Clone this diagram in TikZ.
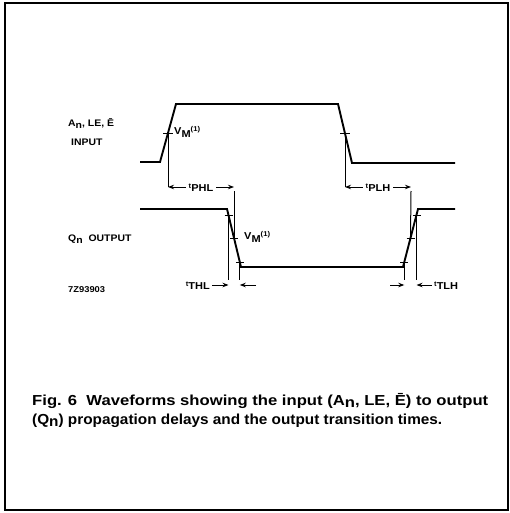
\documentclass[tikz,border=0pt]{standalone}
\usepackage{fontspec}
\setmainfont{Liberation Sans}
\newfontfamily\widefont[FakeStretch=1.1]{Liberation Sans}
\usetikzlibrary{arrows.meta}
\begin{document}
\begin{tikzpicture}[x=1pt,y=-1pt,
  wave/.style={line width=1.9pt, line join=miter},
  dimline/.style={line width=1pt},
  tickmark/.style={line width=1pt},
  arr/.style={line width=1pt,-{Stealth[length=6pt,width=4.5pt]}},
  lbl/.style={font=\widefont\bfseries\fontsize{9.5}{11}\selectfont, inner sep=0pt},
  tlbl/.style={font=\widefont\bfseries\fontsize{10}{11}\selectfont, inner sep=0pt},
  captext/.style={font=\bfseries\fontsize{14.5}{18}\selectfont, inner sep=0pt}]
\useasboundingbox (0,0) rectangle (510,513);
\draw[line width=1.3pt] (5,3) rectangle (508,510);

% input waveform
\coordinate (i0) at (140,162); \coordinate (i1) at (160,162);
\coordinate (i2) at (176,104); \coordinate (i3) at (338,104);
\coordinate (i4) at (352,163); \coordinate (i5) at (455,163);
\draw[wave] (i0) -- (i1) -- (i2) -- (i3) -- (i4) -- (i5);
\coordinate (ivr) at (168,134); \coordinate (ivf) at (345,134);
\draw[tickmark] ([xshift=-5pt]ivr) -- ([xshift=5pt]ivr);
\draw[tickmark] ([xshift=-5pt]ivf) -- ([xshift=5pt]ivf);

% output waveform
\coordinate (o0) at (140,209); \coordinate (o1) at (227,209);
\coordinate (o2) at (241,267); \coordinate (o3) at (403,267);
\coordinate (o4) at (418,209); \coordinate (o5) at (455,209);
\draw[wave] (o0) -- (o1) -- (o2) -- (o3) -- (o4) -- (o5);
\coordinate (of1) at (228.5,215); \coordinate (of5) at (234,238); \coordinate (of9) at (239.8,262);
\coordinate (or1) at (404.3,262); \coordinate (or5) at (410.5,238); \coordinate (or9) at (416.5,215);
\foreach \p in {of1,of5,of9,or1,or5,or9}
  \draw[tickmark] ([xshift=-4pt]\p) -- ([xshift=4pt]\p);

% reference lines
\coordinate (phlA) at (168,187); \coordinate (phlB) at (234,187);
\coordinate (plhA) at (345,187); \coordinate (plhB) at (411,187);
\draw[dimline] (ivr) -- (phlA);
\draw[dimline] ([yshift=-4pt]phlB) -- (of5);
\draw[dimline] (ivf) -- (plhA);
\draw[dimline] ([yshift=-4pt]plhB) -- (or5);
\coordinate (thlA) at (228.5,285); \coordinate (thlB) at (239.8,285);
\coordinate (tlhA) at (404.3,285); \coordinate (tlhB) at (416.5,285);
\draw[dimline] (of1) -- ([yshift=5pt]thlA);
\draw[dimline] (of9) -- ([yshift=5pt]thlB);
\draw[dimline] (or1) -- ([yshift=5pt]tlhA);
\draw[dimline] (or9) -- ([yshift=5pt]tlhB);

% dimension labels and arrows
\node[tlbl] (tphl) at (201,188) {\raisebox{3pt}{\fontsize{7}{7}\selectfont t}PHL};
\draw[arr] (tphl.west |- phlA) ++(-3pt,0) -- (phlA);
\draw[arr] (tphl.east |- phlB) ++(3pt,0) -- (phlB);
\node[tlbl] (tplh) at (378,188) {\raisebox{3pt}{\fontsize{7}{7}\selectfont t}PLH};
\draw[arr] (tplh.west |- plhA) ++(-3pt,0) -- (plhA);
\draw[arr] (tplh.east |- plhB) ++(3pt,0) -- (plhB);
\node[tlbl, anchor=east] (tthl) at (210,286) {\raisebox{3pt}{\fontsize{7}{7}\selectfont t}THL};
\draw[arr] (tthl.east |- thlA) ++(2pt,0) -- (thlA);
\coordinate (thlR) at (256,285);
\draw[arr] (thlR) -- (thlB);
\coordinate (tlhL) at (390,285);
\draw[arr] (tlhL) -- (tlhA);
\node[tlbl, anchor=west] (ttlh) at (434,286) {\raisebox{3pt}{\fontsize{7}{7}\selectfont t}TLH};
\draw[arr] (ttlh.west |- tlhB) ++(-2pt,0) -- (tlhB);

% VM labels
\node[tlbl, anchor=west] (vmi) at (174,132) {V\raisebox{-2.5pt}{M}\raisebox{3pt}{\fontsize{7}{7}\selectfont (1)}};
\node[tlbl, anchor=west] (vmo) at (244,237) {V\raisebox{-2.5pt}{M}\raisebox{3pt}{\fontsize{7}{7}\selectfont (1)}};

% signal labels
\node[lbl, anchor=base west] (inA) at (68,127) {A\raisebox{-2pt}{n}, LE, Ē};
\node[lbl, anchor=base west] (inB) at (71,146) {INPUT};
\node[lbl, anchor=base west] (outA) at (68,241) {Q\raisebox{-2.5pt}{n}\ \ OUTPUT};
\node[lbl, anchor=base west, font=\widefont\bfseries\fontsize{8.5}{9}\selectfont] (code) at (68,292) {7Z93903};

% caption
\node[captext, anchor=base west] (cap1) at (32,405) {\resizebox{456pt}{\height}{Fig. 6\ \ Waveforms showing the input (A\raisebox{-2.5pt}{n}, LE, Ē) to output}};
\node[captext, anchor=base west] (cap2) at (32,424) {\resizebox{410pt}{\height}{(Q\raisebox{-2.5pt}{n}) propagation delays and the output transition times.}};
\end{tikzpicture}
\end{document}
